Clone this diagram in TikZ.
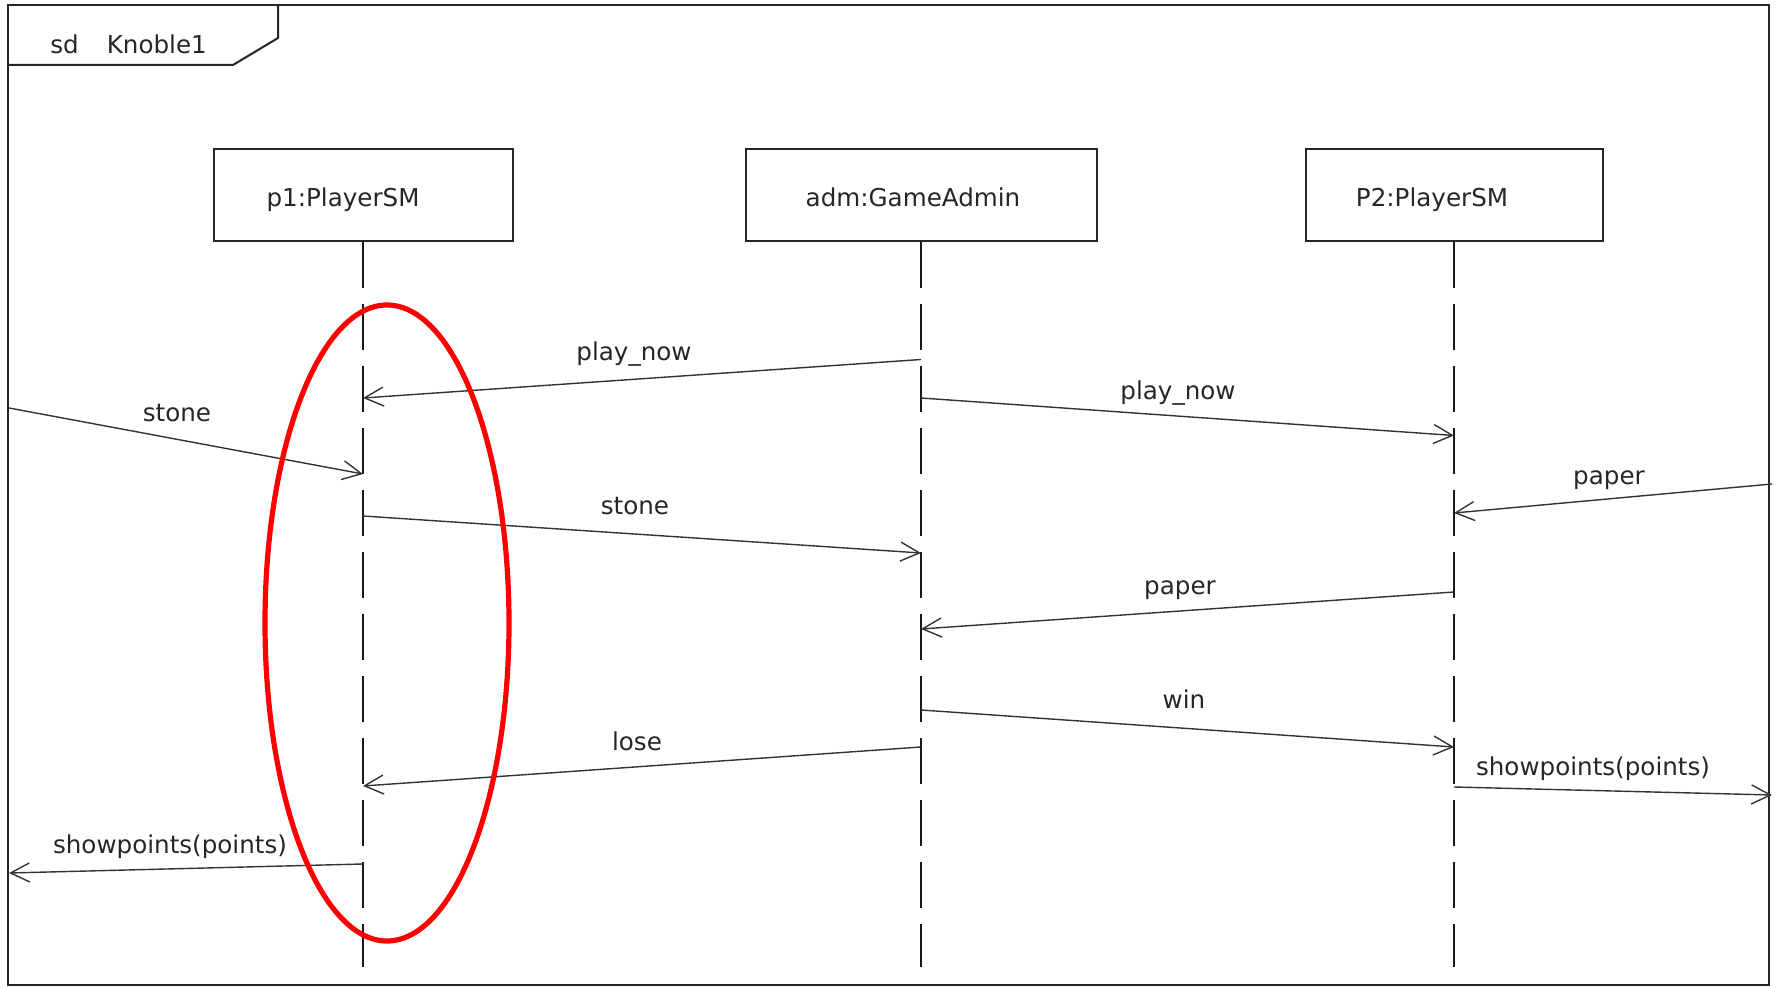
\documentclass[tikz,border=0pt]{standalone}
\usepackage{fontspec}
\setmainfont{DejaVu Sans}
\usetikzlibrary{arrows.meta}

\begin{document}
\begin{tikzpicture}[x=0.5pt,y=-0.5pt,
  frameline/.style={draw=black!85, line width=1pt},
  objbox/.style={draw=black!85, line width=1pt, minimum height=46pt, inner sep=0pt},
  lifeline/.style={draw=black!90, line width=1pt, dash pattern=on 23pt off 8pt},
  msg/.style={draw=black!80, line width=0.7pt,
    -{Straight Barb[length=9.5pt,width=9.5pt,line width=0.7pt]}},
  txt/.style={font=\fontsize{12.3pt}{14pt}\selectfont, text=black!85, inner sep=0pt},
  lbl/.style={txt, anchor=base},
  redring/.style={draw=red, line width=2.6pt}
]
\useasboundingbox (0,0) rectangle (1778,988);

% interaction frame with its name tab
\draw[frameline] (8,5) rectangle (1769,985);
\draw[frameline] (8,65) -- (233,65) -- (278,38) -- (278,5);
\node[txt, anchor=base west] (sdname) at (50,54) {sd\hspace{14pt}Knoble1};

% participants
\node[objbox, minimum width=149.5pt] (p1)  at (363,195) {};
\node[objbox, minimum width=175.5pt] (adm) at (921,195) {};
\node[objbox, minimum width=148.5pt] (p2)  at (1454,195) {};
\node[lbl] (p1name)  at (343,207)  {p1:PlayerSM};
\node[lbl] (admname) at (913,207)  {adm:GameAdmin};
\node[lbl] (p2name)  at (1432,207) {P2:PlayerSM};

% lifelines
\coordinate (p1end)  at (363,967);
\coordinate (admend) at (921,967);
\coordinate (p2end)  at (1454,967);
\draw[lifeline] (p1.south)  -- (p1end);
\draw[lifeline] (adm.south) -- (admend);
\draw[lifeline] (p2.south)  -- (p2end);

% message end points
\coordinate (a1) at (921,359.5);  \coordinate (p1a) at (363,398);
\coordinate (a2) at (921,398);    \coordinate (p2a) at (1454,435.5);
\coordinate (gl1) at (9,408);     \coordinate (p1b) at (363,474);
\coordinate (p1c) at (363,516);   \coordinate (a3) at (921,553);
\coordinate (gr1) at (1772,484);  \coordinate (p2b) at (1454,513);
\coordinate (p2c) at (1454,592);  \coordinate (a4) at (921,629);
\coordinate (a5) at (921,710);    \coordinate (p2d) at (1454,747);
\coordinate (a6) at (921,747);    \coordinate (p1d) at (363,786);
\coordinate (p2e) at (1454,787);  \coordinate (gr2) at (1772,795);
\coordinate (p1e) at (363,864);   \coordinate (gl2) at (9,873);

% messages
\draw[msg] (a1)  -- (p1a);
\draw[msg] (a2)  -- (p2a);
\draw[msg] (gl1) -- (p1b);
\draw[msg] (p1c) -- (a3);
\draw[msg] (gr1) -- (p2b);
\draw[msg] (p2c) -- (a4);
\draw[msg] (a5)  -- (p2d);
\draw[msg] (a6)  -- (p1d);
\draw[msg] (p2e) -- (gr2);
\draw[msg] (p1e) -- (gl2);

% message labels
\node[lbl] (m1)  at (634,361)  {play\_now};
\node[lbl] (m2)  at (1178,400) {play\_now};
\node[lbl] (m3)  at (177,422)  {stone};
\node[lbl] (m4)  at (635,515)  {stone};
\node[lbl] (m5)  at (1609,485) {paper};
\node[lbl] (m6)  at (1180,595) {paper};
\node[lbl] (m7)  at (1184,709) {win};
\node[lbl] (m8)  at (637,750)  {lose};
\node[lbl] (m9)  at (1593,775) {showpoints(points)};
\node[lbl] (m10) at (170,853)  {showpoints(points)};

% highlight around p1's lifeline
\draw[redring] (387,623) ellipse [x radius=122, y radius=318];
\end{tikzpicture}
\end{document}
